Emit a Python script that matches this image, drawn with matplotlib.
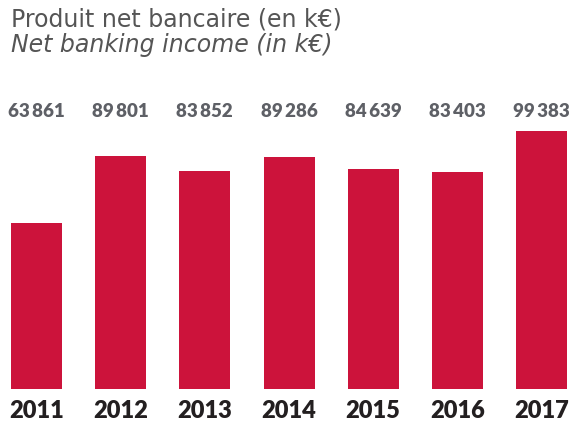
import matplotlib
matplotlib.use("Agg")
import matplotlib.pyplot as plt
import matplotlib.transforms as mtransforms

years = ["2011", "2012", "2013", "2014", "2015", "2016", "2017"]
income = [63861, 89801, 83852, 89286, 84639, 83403, 99383]

W, H = 577, 423
fig = plt.figure(figsize=(W / 100, H / 100), dpi=100)

# axes placed in pixels so bars line up with the reference
step = 84.17
x0 = 36.5
ax = fig.add_axes([0, 34 / H, 1, 258 / H])
ax.set_xlim(-x0 / step, (W - x0) / step)
ax.set_ylim(0, max(income))
ax.axis("off")

xs = list(range(len(years)))
ax.bar(xs, income, width=0.606, color="#cc133b")

trans = mtransforms.blended_transform_factory(ax.transData, fig.transFigure)
for x, v, yr in zip(xs, income, years):
    label = f"{v:,}".replace(",", "\u2009")
    ax.text(x, 1 - 111 / H, label, transform=trans, ha="center", va="center",
            fontsize=13.5, fontweight="heavy", color="#5e6066", family="Lato",
            clip_on=False)
    ax.text(x, 1 - 411 / H, yr, transform=trans, ha="center", va="center",
            fontsize=17, fontweight="heavy", color="#231f20", family="Lato",
            clip_on=False)

fig.text(11 / W, 1 - 19 / H, "Produit net bancaire (en k€)", ha="left", va="center",
         fontsize=17, color="#555555", family="DejaVu Sans")
fig.text(11 / W, 1 - 45 / H, "Net banking income (in k€)", ha="left", va="center",
         fontsize=17, color="#555555", family="DejaVu Sans", style="italic")

fig.savefig("out.png", dpi=100)
